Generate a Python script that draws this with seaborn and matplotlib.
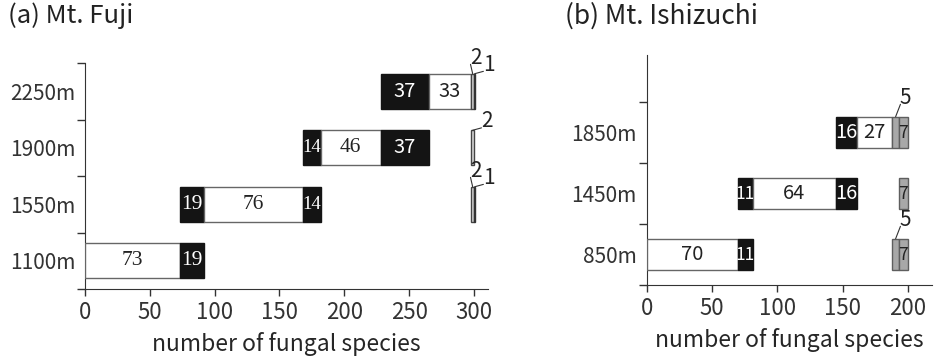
import numpy as np
import matplotlib
matplotlib.use("Agg")
import matplotlib.pyplot as plt
import seaborn as sns

# (a) Mt. Fuji -- species groups laid end to end along x, drawn on every site where they occur
fuji_sites = ["1100m", "1550m", "1900m", "2250m"]
fuji_counts = [73, 19, 76, 14, 46, 37, 33, 2, 1]
fuji_groups = ["unique", "shared", "unique", "shared", "unique", "shared", "unique", "minor", "minor_dark"]
fuji_members = [
    ["1100m"],
    ["1100m", "1550m"],
    ["1550m"],
    ["1550m", "1900m"],
    ["1900m"],
    ["1900m", "2250m"],
    ["2250m"],
    ["1550m", "1900m", "2250m"],
    ["1550m", "2250m"],
]

# (b) Mt. Ishizuchi
ishi_sites = ["850m", "1450m", "1850m"]
ishi_counts = [70, 11, 64, 16, 27, 5, 7]
ishi_groups = ["unique", "shared", "unique", "shared", "unique", "gray", "gray"]
ishi_members = [
    ["850m"],
    ["850m", "1450m"],
    ["1450m"],
    ["1450m", "1850m"],
    ["1850m"],
    ["850m", "1850m"],
    ["850m", "1450m", "1850m"],
]

STYLES = {
    "unique": dict(face="white", edge="#666666", text="#222222"),
    "shared": dict(face="#141414", edge="#141414", text="white"),
    "gray": dict(face="#a8a8a8", edge="#5e5e5e", text="#222222"),
    "minor": dict(face="#d8d8d8", edge="#444444", text="#222222"),
    "minor_dark": dict(face="#555555", edge="#333333", text="#222222"),
}
# label font per segment (the Fuji figure mixes serif and sans numbers)
fuji_serif = [True, True, True, True, True, False, False, False, False]
ishi_serif = [False] * len(ishi_counts)

sns.set_style("ticks")
plt.rcParams["font.family"] = ["Noto Sans CJK JP", "DejaVu Sans"]
plt.rcParams["axes.edgecolor"] = "#333333"
plt.rcParams["xtick.color"] = "#333333"
plt.rcParams["ytick.color"] = "#333333"
plt.rcParams["text.color"] = "#222222"


def draw_panel(ax, sites, counts, groups, members, serif, bar_h, xmax, ytop, lone_offset):
    lefts = np.concatenate([[0], np.cumsum(counts)[:-1]])
    ypos = {s: i for i, s in enumerate(sites)}
    outside = {s: [] for s in sites}
    for left, n, g, mem, sf in zip(lefts, counts, groups, members, serif):
        st = STYLES[g]
        ys = [ypos[s] for s in mem]
        ax.barh(ys, n, left=left, height=bar_h, color=st["face"],
                edgecolor=st["edge"], linewidth=1.0, zorder=3)
        for s in mem:
            if n >= 7:
                if sf:
                    fs, fam = 15.5, ["Liberation Serif"]
                else:
                    fs, fam = 14.5, ["Noto Sans CJK JP", "DejaVu Sans"]
                if n < 15:
                    fs -= 2
                ax.text(left + n / 2, ypos[s], str(n), ha="center", va="center",
                        color=st["text"], fontsize=fs, family=fam, zorder=4)
            else:
                outside[s].append((left, n))
    # small groups get a label outside with a short leader line
    for s, items in outside.items():
        for k, (left, n) in enumerate(items):
            off = lone_offset if k == len(items) - 1 else (3, 16)
            ax.annotate(str(n), xy=(left + n / 2, ypos[s] + bar_h / 2),
                        xytext=off, textcoords="offset pixels",
                        ha="center", va="center", fontsize=15, zorder=5,
                        arrowprops=dict(arrowstyle="-", lw=0.8, color="#333333",
                                        patchA=None, relpos=(0.05, 0.2),
                                        shrinkA=0, shrinkB=0))

    ax.set_xlim(0, xmax)
    ax.set_ylim(-0.5, ytop)
    ax.set_xticks(np.arange(0, xmax, 50))
    ax.tick_params(axis="x", labelsize=16, length=5, width=1)
    ax.set_yticks(np.arange(-0.5, ytop + 0.01, 1.0))
    ax.set_yticklabels([])
    ax.set_yticks(np.arange(len(sites)), labels=sites, minor=True)
    ax.tick_params(axis="y", which="major", length=6, width=1)
    ax.tick_params(axis="y", which="minor", length=0, labelsize=15, pad=7)
    ax.set_xlabel("number of fungal species", fontsize=16.5, labelpad=6)
    sns.despine(ax=ax)


fig = plt.figure(figsize=(9.4, 3.6), dpi=100)
ax1 = fig.add_axes([0.0904, 0.197, 0.429, 0.628])
ax2 = fig.add_axes([0.688, 0.208, 0.303, 0.639])

draw_panel(ax1, fuji_sites, fuji_counts, fuji_groups, fuji_members, fuji_serif,
           bar_h=0.62, xmax=311, ytop=3.5, lone_offset=(14, 9))
draw_panel(ax2, ishi_sites, ishi_counts, ishi_groups, ishi_members, ishi_serif,
           bar_h=0.52, xmax=218, ytop=3.27, lone_offset=(10, 19))

fig.text(0.009, 0.955, "(a) Mt. Fuji", fontsize=18.5, va="center", ha="left")
fig.text(0.601, 0.955, "(b) Mt. Ishizuchi", fontsize=19, va="center", ha="left")

fig.savefig("out.png", dpi=100)
